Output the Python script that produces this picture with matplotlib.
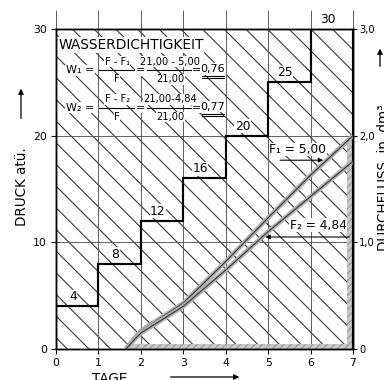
import numpy as np
import matplotlib
matplotlib.use("Agg")
import matplotlib.pyplot as plt
from matplotlib.patches import Rectangle, FancyArrowPatch

plt.rcParams['font.family'] = ['Liberation Sans Narrow', 'DejaVu Sans']
plt.rcParams['hatch.linewidth'] = 0.6

# Druckstufen (atü) je Tag
tage = [0, 1, 2, 3, 4, 5, 6, 7]
druck = [4, 8, 12, 16, 20, 25, 30]

# Durchflusskurven (Druckskala, 10 atü = 1,0 dm3)
f_x = [1.65, 1.85, 2, 3, 4, 5, 6, 7]
f1_y = [0, 1.0, 1.7, 4.3, 8.2, 12.3, 16.3, 20.0]
f2_y = [0, 0.9, 1.5, 4.0, 7.4, 11.0, 14.3, 17.6]

y_ticks = [0, 10, 20, 30]
r_ticks = [0, 1, 2, 3]
r_labels = ['0', '1,0', '2,0', '3,0']

fig = plt.figure(figsize=(384 / 130, 380 / 130), dpi=130)
ax = fig.add_axes([56 / 384, 31 / 380, 297 / 384, 320 / 380])
ax.set_xlim(0, 7)
ax.set_ylim(0, 30)

# Schraffur
ax.add_patch(Rectangle((0, 0), 7, 30, fill=False, hatch='\\\\', edgecolor='#333333', lw=0, zorder=0))

# Raster
ax.vlines(tage, 0, 31.8, colors='#555555', lw=0.5, clip_on=False, zorder=1)
ax.hlines([10, 20], 0, 7, colors='#555555', lw=0.5, zorder=1)

# graue Randstreifen
ax.add_patch(Rectangle((1.7, 0), 5.3, 0.45, facecolor='#c8c8c8', edgecolor='#999999', hatch='//////', lw=0, zorder=2))
ax.add_patch(Rectangle((6.86, 0), 0.14, 19.6, facecolor='#c8c8c8', edgecolor='#999999', hatch='//////', lw=0, zorder=2))

# Druckstufen-Treppe
ax.stairs(druck, tage, baseline=0, color='black', lw=1.2, zorder=3)
for i, p in enumerate(druck):
    ax.text(tage[i] + 0.4, p + 0.9, str(p), ha='center', va='center', fontsize=6.8,
            bbox=dict(facecolor='white', edgecolor='none', pad=0.3), zorder=4)

# Durchflusskurven
for yy in (f1_y, f2_y):
    ax.plot(f_x, yy, color='#b0b0b0', lw=2.6, solid_capstyle='butt', zorder=3)
    ax.plot(f_x, yy, color='#333333', lw=0.6, zorder=3)

ax.text(5.7, 18.7, 'F₁ = 5,00', ha='center', va='center', fontsize=6.8,
        bbox=dict(facecolor='white', edgecolor='none', pad=0.2), zorder=4)
ax.annotate('', xy=(6.38, 17.7), xytext=(5.2, 17.7),
            arrowprops=dict(arrowstyle='-|>', color='black', lw=0.6, mutation_scale=5), zorder=4)
ax.text(6.18, 11.6, 'F₂ = 4,84', ha='center', va='center', fontsize=6.8,
        bbox=dict(facecolor='white', edgecolor='none', pad=0.2), zorder=4)
ax.annotate('', xy=(4.85, 10.5), xytext=(7.0, 10.5),
            arrowprops=dict(arrowstyle='-|>', color='black', lw=0.6, mutation_scale=5), zorder=4)

# Formelblock
wb = dict(facecolor='white', edgecolor='none', pad=0.3)
ax.text(1.77, 28.5, 'WASSERDICHTIGKEIT', ha='center', va='center', fontsize=7.6, bbox=wb, zorder=4)


def bruch(x, y, oben, unten, breite):
    ax.text(x, y + 0.8, oben, ha='center', va='center', fontsize=5.5, bbox=wb, zorder=4)
    ax.text(x, y - 0.85, unten, ha='center', va='center', fontsize=5.5, bbox=wb, zorder=4)
    ax.plot([x - breite / 2, x + breite / 2], [y, y], color='black', lw=0.6, zorder=4)


for y, w, f, fz, erg in [(26.15, 'W₁', 'F - F₁', '21,00 - 5,00', '0,76'),
                          (22.6, 'W₂', 'F - F₂', '21,00-4,84', '0,77')]:
    ax.text(0.57, y, w + ' =', ha='center', va='center', fontsize=6.2, bbox=wb, zorder=4)
    bruch(1.44, y, f, 'F', 0.83)
    ax.text(1.98, y, '=', ha='center', va='center', fontsize=6.2, bbox=wb, zorder=4)
    bruch(2.69, y, fz, '21,00', 1.08)
    ax.text(3.32, y, '=', ha='center', va='center', fontsize=6.2, bbox=wb, zorder=4)
    ax.text(3.70, y + 0.1, erg, ha='center', va='center', fontsize=6.2, bbox=wb, zorder=4)
    ax.plot([3.45, 3.96], [y - 0.55, y - 0.55], color='black', lw=0.6, zorder=4)
    ax.plot([3.45, 3.96], [y - 0.75, y - 0.75], color='black', lw=0.6, zorder=4)

# Achsen
ax.set_xticks(tage)
ax.set_yticks(y_ticks)
ax.tick_params(labelsize=6, width=0.6, length=3, pad=2)
for s in ax.spines.values():
    s.set_linewidth(0.8)

ax2 = ax.twinx()
ax2.set_ylim(0, 3)
ax2.set_yticks(r_ticks)
ax2.set_yticklabels(r_labels)
ax2.tick_params(labelsize=5.5, width=0.6, length=2, pad=1.5)

fig.text(22 / 384, 1 - 187 / 380, 'DRUCK atü.', rotation=90, ha='center', va='center', fontsize=7.5)
fig.add_artist(FancyArrowPatch((21 / 384, 1 - 122 / 380), (21 / 384, 1 - 85 / 380),
               transform=fig.transFigure, arrowstyle='-|>', mutation_scale=6, lw=0.7, color='black'))
fig.text(110 / 384, 1 - 379 / 380, 'TAGE', ha='center', va='center', fontsize=7.5)
fig.add_artist(FancyArrowPatch((167 / 384, 1 - 377 / 380), (243 / 384, 1 - 377 / 380),
               transform=fig.transFigure, arrowstyle='-|>', mutation_scale=6, lw=0.7, color='black'))
fig.text(384 / 384, 1 - 178 / 380, 'DURCHFLUSS  in  dm³', rotation=90, ha='center', va='center', fontsize=7.5)
fig.add_artist(FancyArrowPatch((380 / 384, 1 - 70 / 380), (380 / 384, 1 - 45 / 380),
               transform=fig.transFigure, arrowstyle='-|>', mutation_scale=6, lw=0.7, color='black'))

fig.savefig('out.png', dpi=130)
